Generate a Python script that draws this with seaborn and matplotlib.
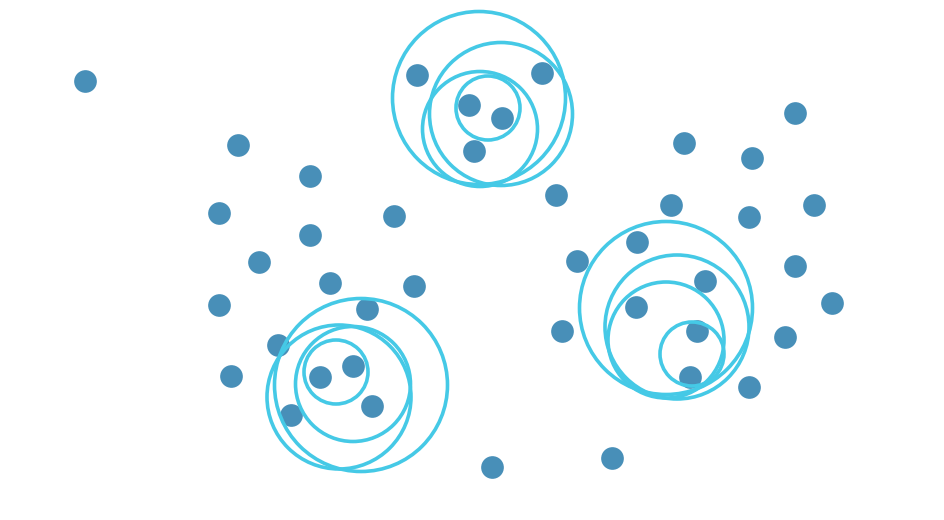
import matplotlib
matplotlib.use("Agg")
import matplotlib.pyplot as plt
from matplotlib.patches import Circle
import seaborn as sns
import pandas as pd

# Point positions (pixel-like coordinates, y downward)
point_x = [85, 238, 310, 219, 310, 394, 259, 330, 414, 219, 367, 278, 231, 320, 353, 372, 291,
           492, 612, 417, 542, 469, 502, 474, 556, 684, 752, 795, 671, 749, 814, 637, 577, 795,
           705, 832, 636, 562, 697, 785, 690, 749]
point_y = [81, 145, 176, 213, 235, 216, 262, 283, 286, 305, 309, 345, 376, 377, 366, 406, 415,
           467, 458, 75, 73, 105, 118, 151, 195, 143, 158, 113, 205, 217, 205, 242, 261, 266,
           281, 303, 307, 331, 331, 337, 377, 387]

# Enclosing circles
circle_x = [479, 501, 480, 488, 361, 339, 353, 336, 666, 677, 666, 692]
circle_y = [98, 114, 129, 108, 385, 397, 384, 372, 308, 327, 340, 354]
circle_r = [86.5, 71.5, 57.5, 32, 86.5, 72, 57.5, 32, 86.5, 72, 58, 32]

POINT_COLOR = "#488fb8"
CIRCLE_COLOR = "#45c9e6"

sns.set_style("white")
fig = plt.figure(figsize=(9.44, 5.2), dpi=100)
ax = fig.add_axes([0, 0, 1, 1])

df = pd.DataFrame({"x": point_x, "y": point_y})
sns.scatterplot(data=df, x="x", y="y", ax=ax, color=POINT_COLOR, s=267,
                linewidth=0, legend=False, zorder=2)

for cx, cy, r in zip(circle_x, circle_y, circle_r):
    ax.add_patch(Circle((cx, cy), r, fill=False, edgecolor=CIRCLE_COLOR,
                        linewidth=2.6, zorder=3))

ax.set_xlim(0, 944)
ax.set_ylim(520, 0)
ax.set_aspect("equal", adjustable="box")
ax.axis("off")

fig.savefig("out.png", dpi=100, facecolor="white")
